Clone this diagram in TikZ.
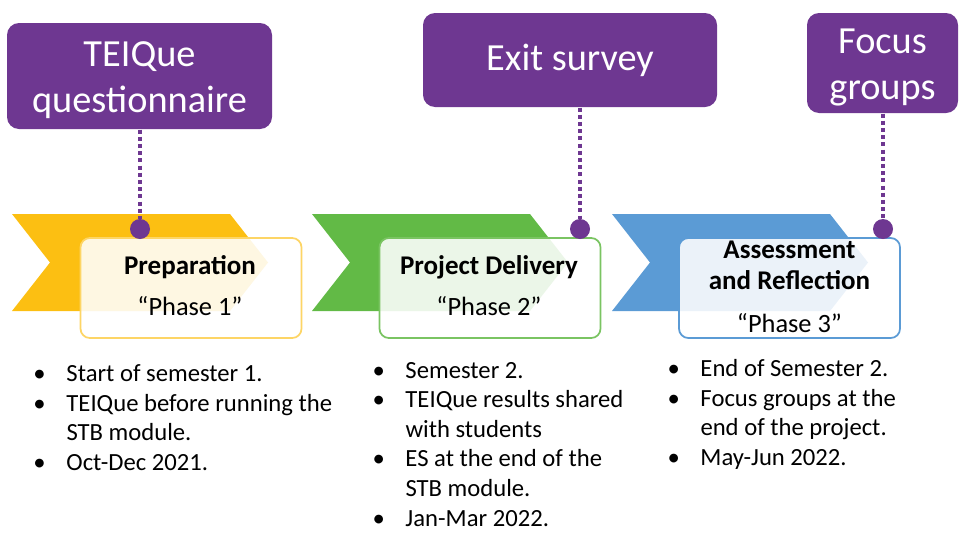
\documentclass[tikz,border=0pt]{standalone}
\usepackage{fontspec}
\setmainfont{Carlito}
\usetikzlibrary{positioning}

\definecolor{evpurple}{RGB}{110,55,145}
\definecolor{phyellow}{RGB}{252,191,18}
\definecolor{phgreen}{RGB}{98,186,70}
\definecolor{phblue}{RGB}{91,155,213}

\newcommand{\evstrut}{\rule{0pt}{24.5pt}}

\tikzset{every picture/.style={line width=0.75pt}}
\tikzset{
  evbox/.style={fill=evpurple, rounded corners=9pt, text=white, align=center, inner sep=0pt,
    font=\fontsize{28.75pt}{34.5pt}\selectfont},
  evdot/.style={circle, fill=evpurple, minimum size=15pt, inner sep=0pt},
  evline/.style={draw=evpurple, line width=3pt, dash pattern=on 3pt off 2.4pt},
  phbox/.style={draw=#1, line width=1.3pt, fill=white, fill opacity=0.88, rounded corners=7pt,
    minimum width=165.75pt, minimum height=75pt, inner sep=0pt},
  phtitle/.style={anchor=base, inner sep=0pt, font=\bfseries\fontsize{20.25pt}{24pt}\selectfont},
  phname/.style={anchor=base, inner sep=0pt, font=\fontsize{19.8pt}{24pt}\selectfont},
  notes/.style={anchor=base west, inner sep=0pt, font=\fontsize{18.5pt}{22.2pt}\selectfont}
}

\begin{document}
\begin{tikzpicture}[x=0.75pt,y=0.75pt,yscale=-1,xscale=1]
\useasboundingbox (0,0) rectangle (959,532);

%Chevrons
\foreach \c/\dx in {phyellow/0, phgreen/300, phblue/600}
  \fill[\c, shift={(\dx,0)}] (12,214) -- (230,214) -- (268,262.5) -- (230,311) -- (12,311) -- (50,262.5) -- cycle ;

%Phase boxes
\node[phbox=phyellow!65] (ph1) at (191,288) {};
\node[phbox=phgreen!85] (ph2) at (490,288) {};
\node[phbox=phblue] (ph3) at (789.5,288) {};

% Text Node
\node[phtitle] (ph1t) at (190,274) {Preparation};
\node[phname] (ph1n) at (190,315) {“Phase 1”};
\node[phtitle] (ph2t) at (489,274) {Project Delivery};
\node[phname] (ph2n) at (489,315) {“Phase 2”};
\node[phtitle] (ph3t) at (789.5,258) {Assessment};
\node[phtitle] (ph3u) at (789.5,289) {and Reflection};
\node[phname] (ph3n) at (789.5,332) {“Phase 3”};

%Evaluation boxes
\node[evbox, minimum width=198.75pt, minimum height=79.5pt] (tei) at (139.5,76) {\evstrut TEIQue\\questionnaire};
\node[evbox, minimum width=220.5pt, minimum height=70.5pt] (exit) at (570,60) {Exit survey};
\node[evbox, minimum width=113.25pt, minimum height=75pt] (focus) at (882.5,63) {\evstrut Focus\\groups};

%Dots and dotted links
\node[evdot] (d1) at (140,229) {};
\node[evdot] (d2) at (580,229) {};
\node[evdot] (d3) at (883,229) {};
\draw[evline] (tei.south -| d1) -- (d1.north);
\draw[evline] (exit.south -| d2) -- (d2.north);
\draw[evline] (focus.south -| d3) -- (d3.north);

% Bullet lists
\node[notes] (list1) at (33,381.7) {\begin{tabular}[t]{@{}p{24.75pt}@{}l@{}}
\textbullet & Start of semester 1.\\
\textbullet & TEIQue before running the\\
 & STB module.\\
\textbullet & Oct-Dec 2021.
\end{tabular}};
\node[notes] (list2) at (372,378) {\begin{tabular}[t]{@{}p{24.75pt}@{}l@{}}
\textbullet & Semester 2.\\
\textbullet & TEIQue results shared\\
 & with students\\
\textbullet & ES at the end of the\\
 & STB module.\\
\textbullet & Jan-Mar 2022.
\end{tabular}};
\node[notes] (list3) at (667,376.7) {\begin{tabular}[t]{@{}p{24.75pt}@{}l@{}}
\textbullet & End of Semester 2.\\
\textbullet & Focus groups at the\\
 & end of the project.\\
\textbullet & May-Jun 2022.
\end{tabular}};

\end{tikzpicture}
\end{document}
